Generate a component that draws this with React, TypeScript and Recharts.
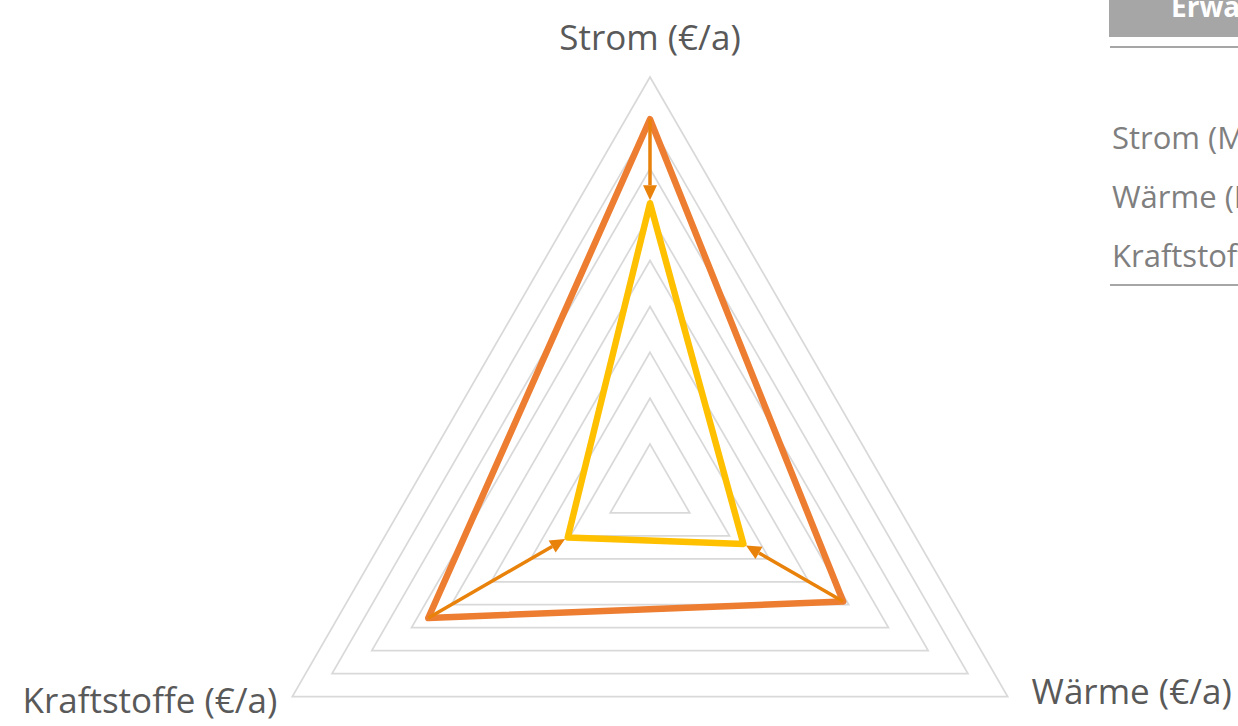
import { RadarChart, Radar, PolarGrid, PolarAngleAxis, PolarRadiusAxis } from "recharts"

// Achsen und Werte (Skala 0..9, wie die 9 Gitterringe)
const categories = ["Strom (€/a)", "Wärme (€/a)", "Kraftstoffe (€/a)"]
const vorher = [8.08, 4.86, 5.58]
const nachher = [6.25, 2.35, 2.07]

// angeschnittene Tabelle rechts
const tableHeader = "Erwartete Einsparung"
const tableRows = ["Strom (MWh/a)", "Wärme (MWh/a)", "Kraftstoffe (MWh/a)"]

const data = categories.map((kategorie, i) => ({
  kategorie,
  vorher: vorher[i],
  nachher: nachher[i]
}))

const FONT = "'Open Sans', sans-serif"

// Pfeile vom "vorher"-Punkt zum "nachher"-Punkt
function Arrows(props: any) {
  const points = props.points || []
  return (
    <g>
      {points.map((p: any, i: number) => {
        const ratio = p.payload.nachher / p.payload.vorher
        const tx = p.cx + (p.x - p.cx) * ratio
        const ty = p.cy + (p.y - p.cy) * ratio
        const dx = tx - p.x
        const dy = ty - p.y
        const len = Math.sqrt(dx * dx + dy * dy)
        const ux = dx / len
        const uy = dy / len
        // Spitze kurz vor dem Zielpunkt
        const tipX = tx - ux * 3
        const tipY = ty - uy * 3
        const head = 15
        const half = 7
        const bx = tipX - ux * head
        const by = tipY - uy * head
        return (
          <g key={i}>
            <line x1={p.x} y1={p.y} x2={bx} y2={by} stroke="#E9820B" strokeWidth={3.5} />
            <polygon
              points={`${tipX},${tipY} ${bx - uy * half},${by + ux * half} ${bx + uy * half},${by - ux * half}`}
              fill="#E9820B"
            />
          </g>
        )
      })}
    </g>
  )
}

function AxisLabel(props: any) {
  const { x, y, payload, index } = props
  let anchor = "middle"
  let dx = 0
  let dy = 0
  if (index === 0) {
    dy = -19
  } else if (index === 1) {
    anchor = "start"
    dx = 17
    dy = 3
  } else {
    anchor = "end"
    dx = -8
    dy = 12
  }
  return (
    <text x={x + dx} y={y + dy} textAnchor={anchor} fill="#595959" fontSize={35} fontFamily={FONT}>
      {payload.value}
    </text>
  )
}

export default function App() {
  return (
    <div style={{ position: "absolute", left: 0, top: 0, width: 1238, height: 726, overflow: "hidden", background: "#fff" }}>
      <RadarChart
        width={1238}
        height={726}
        data={data}
        cx={650}
        cy={490}
        outerRadius={413}
        margin={{ top: 0, right: 0, bottom: 0, left: 0 }}
      >
        <PolarGrid gridType="polygon" radialLines={false} stroke="#D9D9D9" strokeWidth={1.75} />
        <PolarAngleAxis dataKey="kategorie" tick={<AxisLabel />} tickLine={false} axisLine={false} />
        <PolarRadiusAxis domain={[0, 9]} tickCount={10} tick={false} axisLine={false} />
        <Radar
          dataKey="vorher"
          stroke="#ED7D31"
          strokeWidth={6.5}
          strokeLinejoin="round"
          fill="none"
          dot={false}
          isAnimationActive={false}
        />
        <Radar
          dataKey="nachher"
          stroke="#FFC000"
          strokeWidth={6.5}
          strokeLinejoin="round"
          fill="none"
          dot={false}
          isAnimationActive={false}
        />
        <Radar
          dataKey="vorher"
          shape={(p: any) => <Arrows {...p} />}
          fill="none"
          stroke="none"
          dot={false}
          legendType="none"
          isAnimationActive={false}
        />
      </RadarChart>
      <svg width={1238} height={726} style={{ position: "absolute", left: 0, top: 0, pointerEvents: "none" }}>
        <rect x={1109} y={-10} width={140} height={47} fill="#A6A6A6" />
        <text x={1171} y={17} fill="#fff" fontSize={28} fontWeight="bold" fontFamily={FONT}>
          {tableHeader}
        </text>
        <line x1={1110} y1={47} x2={1238} y2={47} stroke="#A6A6A6" strokeWidth={2} />
        {tableRows.map((r, i) => (
          <text key={r} x={1112} y={149 + i * 59} fill="#7F7F7F" fontSize={31} fontFamily={FONT}>
            {r}
          </text>
        ))}
        <line x1={1110} y1={285} x2={1238} y2={285} stroke="#A6A6A6" strokeWidth={2} />
      </svg>
    </div>
  )
}
